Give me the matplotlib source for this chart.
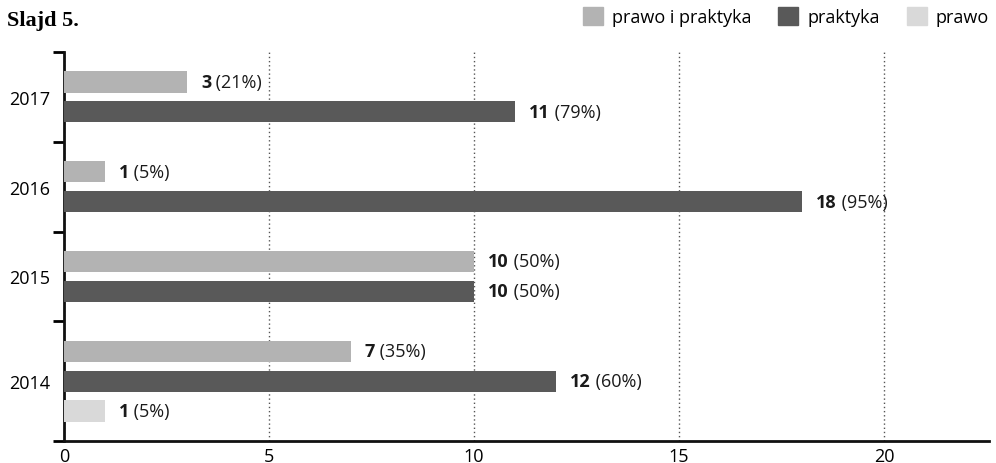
import matplotlib
matplotlib.use('Agg')
import matplotlib.pyplot as plt
from matplotlib.patches import Patch

plt.rcParams['font.family'] = ['Open Sans', 'DejaVu Sans']

# Years from top to bottom, one band each
years = ['2017', '2016', '2015', '2014']
series_names = ['prawo i praktyka', 'praktyka', 'prawo']
series_colors = ['#b3b3b3', '#595959', '#d9d9d9']

# None = series not present in that year
prawo_i_praktyka = [3, 1, 10, 7]
praktyka = [11, 18, 10, 12]
prawo = [None, None, None, 1]

pct_prawo_i_praktyka = [21, 5, 50, 35]
pct_praktyka = [79, 95, 50, 60]
pct_prawo = [None, None, None, 5]

values = [prawo_i_praktyka, praktyka, prawo]
pcts = [pct_prawo_i_praktyka, pct_praktyka, pct_prawo]

fs = 13

fig = plt.figure(figsize=(9.96, 4.64), dpi=100)
ax = fig.add_axes([0.0643, 0.0474, 0.9287, 0.8384])

label_items = []
bounds = [0]
centers = []
pos = 0
for i, year in enumerate(years):
    start = pos
    slot = start
    for s in range(3):
        v = values[s][i]
        if v is None:
            continue
        slot += 1
        ax.barh(slot, v, height=0.71, color=series_colors[s], zorder=3)
        label_items.append((v, slot, str(v), ' (%d%%)' % pcts[s][i]))
    pos = slot + 1
    bounds.append(pos)
    centers.append((start + pos) / 2)

ax.set_ylim(pos, 0)
ax.set_xlim(0, 22.56)

ax.set_yticks(bounds)
ax.set_yticklabels([])
ax.set_yticks(centers, minor=True)
ax.set_yticklabels(years, minor=True, fontsize=fs)
ax.tick_params(axis='y', which='major', length=8, width=2, direction='out')
ax.tick_params(axis='y', which='minor', length=0, pad=10)

ax.set_xticks([0, 5, 10, 15, 20])
ax.tick_params(axis='x', length=0, labelsize=fs, pad=4)

for side in ['top', 'right']:
    ax.spines[side].set_visible(False)
for side in ['left', 'bottom']:
    ax.spines[side].set_linewidth(2)
    ax.spines[side].set_color('#111111')

ax.grid(True, axis='x', linestyle=(0, (1, 2)), color='#555555', linewidth=1, zorder=1)
ax.set_axisbelow(True)

# Value labels: bold count followed by the share in brackets
fig.canvas.draw()
renderer = fig.canvas.get_renderer()
for v, y, num, rest in label_items:
    t = ax.annotate(num, (v, y), xytext=(10, 0), textcoords='offset points',
                    va='center', ha='left', fontsize=fs, fontweight='bold',
                    color='#1a1a1a', zorder=4)
    w = t.get_window_extent(renderer).width
    ax.annotate(rest, (v, y), xytext=(10 + w * 72 / fig.dpi, 0), textcoords='offset points',
                va='center', ha='left', fontsize=fs, color='#1a1a1a', zorder=4)

fig.text(0.007, 0.955, 'Slajd 5.', fontsize=16, fontweight='bold',
         family='Liberation Serif', va='center', ha='left')

handles = [Patch(color=c) for c in series_colors]
fig.legend(handles, series_names, ncol=3, loc='center right', bbox_to_anchor=(0.993, 0.962),
           frameon=False, fontsize=fs, handlelength=1.1, handleheight=1.1,
           handletextpad=0.5, columnspacing=1.5, borderaxespad=0, borderpad=0)

fig.savefig('out.png', dpi=100)
